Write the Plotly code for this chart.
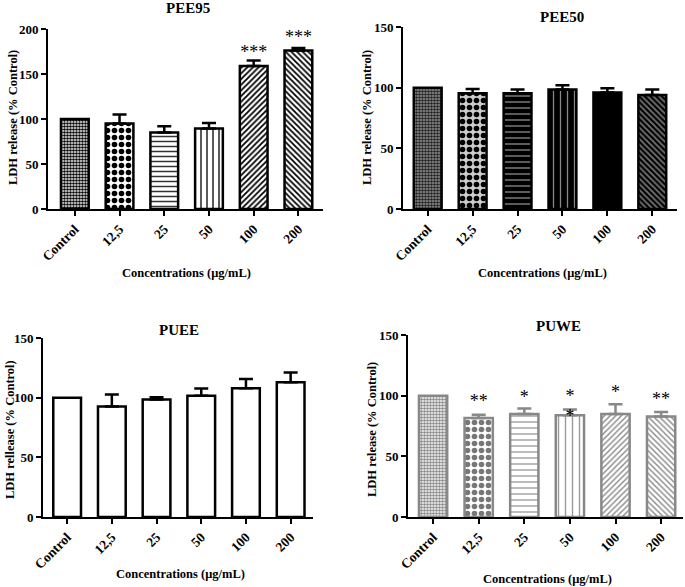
import plotly.graph_objects as go

cats = ["Control", "12,5", "25", "50", "100", "200"]

pee95_mean = [100, 95, 85, 89.5, 159, 176]
pee95_top = [100, 105, 92, 95.5, 165, 179]
pee95_star = ["", "", "", "", "***", "***"]
pee95_star_y = [None, None, None, None, 173, 189]

pee50_mean = [100, 95.5, 95.5, 98.5, 96, 94]
pee50_top = [100, 98.8, 98.5, 102, 99.6, 98.5]

puee_mean = [100, 92.5, 98.5, 101.7, 107.8, 113]
puee_top = [100, 102.7, 100.4, 107.6, 115.6, 121]

puwe_mean = [100, 81.5, 84.8, 83.8, 84.8, 82.8]
puwe_top = [100, 84.2, 89.4, 88.6, 93, 86.5]
puwe_star = ["", "**", "*", "*", "*", "**"]
puwe_star_y = [None, 94.5, 97.5, 98.5, 101.5, 96]
puwe_star2 = ["", "", "", "*", "", ""]
puwe_star2_y = [None, None, None, 82, None, None]

FONT = "Liberation Serif"
W, H = 685, 587

panels = [
    dict(name="PEE95", mean=pee95_mean, top=pee95_top, xp=(48, 323), yp=(29, 209), ymax=200,
         xr=[-0.6, 5.55], lc="black",
         shape=[".", ".", "-", "|", "/", "\\"], size=[3, 7, 5, 6, 4, 4],
         sol=[0.6, 0.5, 0.3, 0.25, 0.45, 0.45],
         fg=["black", "black", "#333", "#222", "black", "black"],
         bg=["#fff"] * 6,
         ytitle="LDH release (% Control)", tpos=(188, 8), xtpos=(187, 273), ytpos=(13, 118)),
    dict(name="PEE50", mean=pee50_mean, top=pee50_top, xp=(403, 677), yp=(27, 209), ymax=150,
         xr=[-0.55, 5.55], lc="black",
         shape=[".", ".", "-", "|", "", "\\"], size=[3, 7, 6, 7, 4, 4],
         sol=[0.6, 0.5, 0.22, 0.18, 0.3, 0.45],
         fg=["#222", "black", "#888", "#888", "black", "#777"],
         bg=["#999", "#ccc", "black", "black", "black", "black"],
         ytitle="LDH release (% Control)", tpos=(562, 17), xtpos=(542, 273), ytpos=(367, 118)),
    dict(name="PUEE", mean=puee_mean, top=puee_top, xp=(43, 313), yp=(338, 517), ymax=150,
         xr=[-0.54, 5.5], lc="black",
         shape=[""] * 6, size=[4] * 6, sol=[0.3] * 6, fg=["white"] * 6, bg=["white"] * 6,
         ytitle="LDH rellease (% Control)", tpos=(179, 330), xtpos=(180, 574), ytpos=(10, 430)),
    dict(name="PUWE", mean=puwe_mean, top=puwe_top, xp=(408, 683), yp=(335, 517), ymax=150,
         xr=[-0.55, 5.48], lc="#888888",
         shape=[".", ".", "-", "|", "/", "\\"], size=[3, 7, 6, 7, 4, 4],
         sol=[0.6, 0.5, 0.22, 0.2, 0.35, 0.35],
         fg=["#888", "#777", "#999", "#999", "#888", "#888"],
         bg=["#fff"] * 6,
         ytitle="LDH release (% Control)", tpos=(558, 326), xtpos=(547, 579), ytpos=(372, 430)),
]

fig = go.Figure()
annotations = []


def label(text, pos, size, angle=0):
    return dict(text=text, x=pos[0] / W, y=1 - pos[1] / H, xref="paper", yref="paper",
                xanchor="center", yanchor="middle", showarrow=False, textangle=angle,
                font=dict(family=FONT, size=size, color="black", weight="bold"))


for i, p in enumerate(panels, start=1):
    xa = "x" if i == 1 else f"x{i}"
    ya = "y" if i == 1 else f"y{i}"
    for j, c in enumerate(cats):
        m, t = p["mean"][j], p["top"][j]
        fig.add_trace(go.Bar(
            x=[c], y=[m], xaxis=xa, yaxis=ya, width=0.62,
            marker=dict(color=p["bg"][j], line=dict(color=p["lc"], width=2.5),
                        pattern=dict(shape=p["shape"][j], size=p["size"][j],
                                     solidity=p["sol"][j], fgcolor=p["fg"][j],
                                     bgcolor=p["bg"][j], fgopacity=1,
                                     fillmode="replace")),
            error_y=dict(type="data", array=[t - m], arrayminus=[0], symmetric=False,
                         color=p["lc"], thickness=2.5, width=7, visible=t > m),
            showlegend=False,
        ))
    lay = {}
    lay["xaxis" if i == 1 else f"xaxis{i}"] = dict(
        domain=[p["xp"][0] / W, p["xp"][1] / W], anchor=ya, type="category", range=p["xr"],
        categoryorder="array", categoryarray=cats, automargin=False,
        showline=True, linecolor="black", linewidth=2, ticks="outside", ticklen=5,
        tickwidth=2, tickcolor="black", tickangle=-45,
        tickfont=dict(family=FONT, size=13.5, color="black", weight="bold"),
        showgrid=False, zeroline=False)
    lay["yaxis" if i == 1 else f"yaxis{i}"] = dict(
        domain=[1 - p["yp"][1] / H, 1 - p["yp"][0] / H], anchor=xa, range=[0, p["ymax"]],
        tickvals=list(range(0, p["ymax"] + 1, 50)), automargin=False,
        showline=True, linecolor="black", linewidth=2, ticks="outside", ticklen=5,
        tickwidth=2, tickcolor="black",
        tickfont=dict(family=FONT, size=13, color="black", weight="bold"),
        showgrid=False, zeroline=False)
    fig.update_layout(**lay)

    annotations.append(label(p["name"], p["tpos"], 15))
    annotations.append(label("Concentrations (μg/mL)", p["xtpos"], 12.5))
    annotations.append(label(p["ytitle"], p["ytpos"], 12.5, -90))

star_font = dict(family=FONT, size=18, color="black")
fig.add_trace(go.Scatter(x=cats, y=pee95_star_y, text=pee95_star, mode="text",
                         textfont=star_font, xaxis="x", yaxis="y", showlegend=False))
fig.add_trace(go.Scatter(x=cats, y=puwe_star_y, text=puwe_star, mode="text",
                         textfont=star_font, xaxis="x4", yaxis="y4", showlegend=False))
fig.add_trace(go.Scatter(x=cats, y=puwe_star2_y, text=puwe_star2, mode="text",
                         textfont=star_font, xaxis="x4", yaxis="y4", showlegend=False))

fig.update_layout(
    width=W, height=H, margin=dict(l=0, r=0, t=0, b=0),
    paper_bgcolor="white", plot_bgcolor="white",
    annotations=annotations, barmode="overlay",
)

# the page keeps a default body margin; drop it so the figure sits at the corner
fig.write_html("out.html", config={"displayModeBar": False},
               post_script="document.body.style.margin = '0';")
